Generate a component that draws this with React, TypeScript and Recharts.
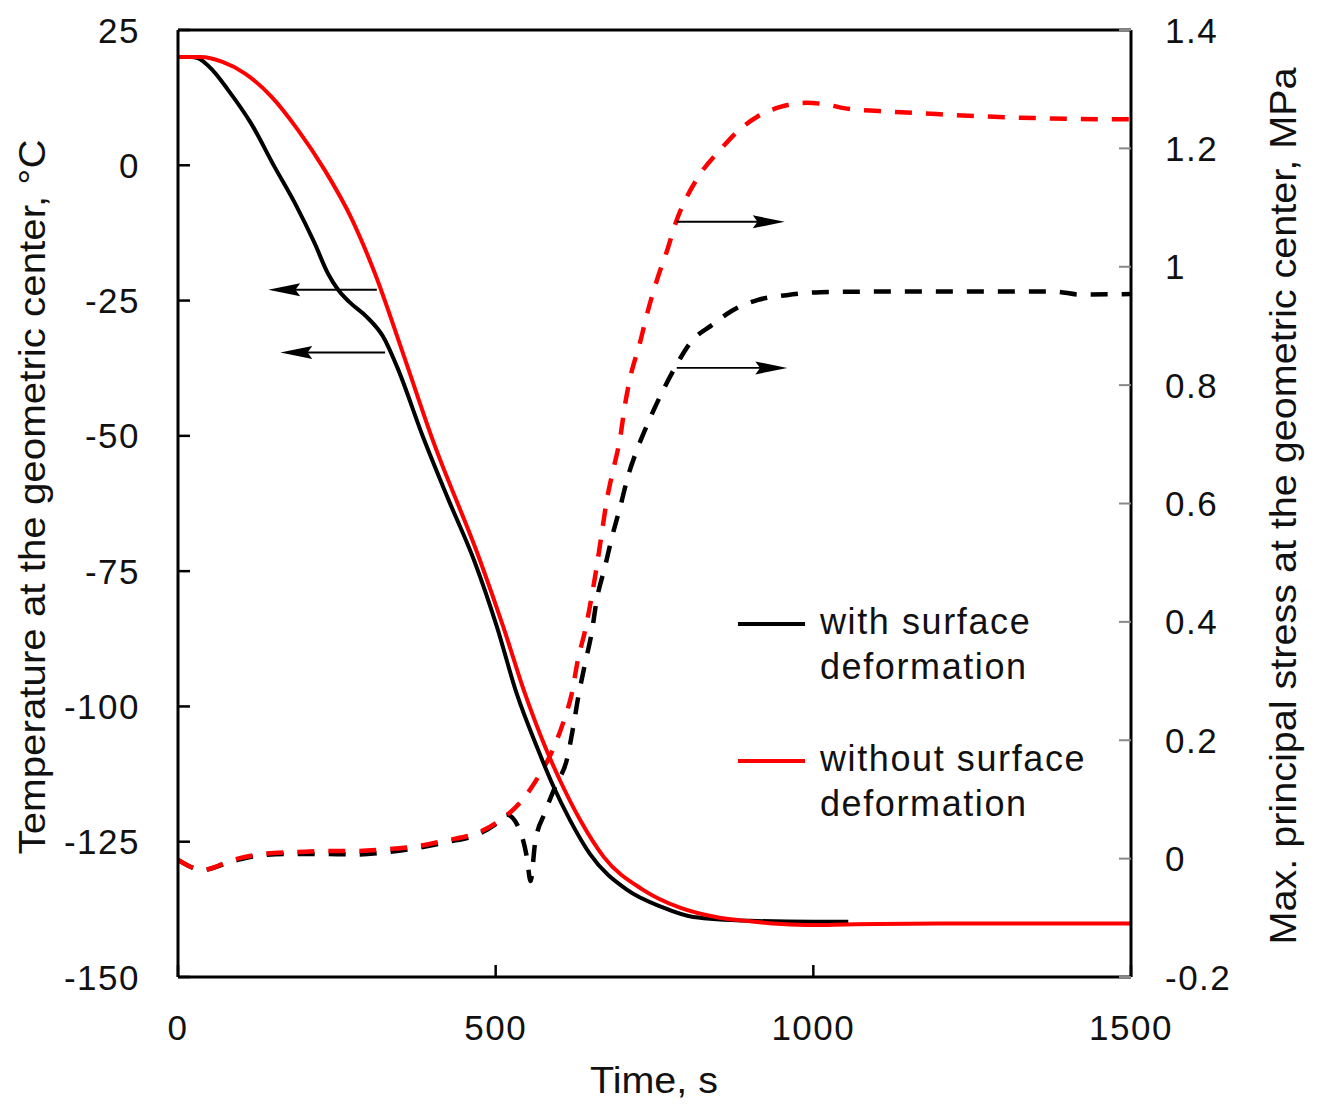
import React from 'react'
import { LineChart, Line, XAxis, YAxis, ReferenceLine, Legend } from 'recharts'

// temperature at the geometric center (°C) vs time (s)
const tempWithTime = [0, 20, 31, 55, 79, 115, 152, 184, 215, 236, 252, 270, 297, 323, 345, 386, 425, 467, 502, 533, 565, 591, 617, 648, 707, 760, 811, 900, 1000, 1055]
const tempWith = [20, 20, 19.8, 17.5, 13.9, 7.75, -0.3, -7, -14.4, -20, -23, -25.3, -28, -31.7, -37.3, -50.3, -61.6, -73.3, -85.3, -97.6, -107.5, -114.8, -121, -127.2, -133.9, -137, -138.9, -139.6, -139.8, -139.8]

const tempWithoutTime = [0, 36, 70, 105, 147, 189, 231, 273, 310, 354, 401, 475, 512, 546, 578, 601, 633, 670, 732, 790, 850, 900, 950, 1000, 1050, 1100, 1200, 1300, 1400, 1500]
const tempWithout = [20, 20, 19.1, 17, 12.7, 6.5, -0.9, -9.8, -20, -34.7, -50.8, -72.9, -85.3, -97.6, -107.5, -113.6, -121, -127.8, -133.9, -137.2, -139, -139.7, -140.2, -140.4, -140.3, -140.2, -140.1, -140.1, -140.1, -140.1]

// max. principal stress (MPa) vs time (s)
const stressWithTime = [0, 39, 87, 134, 187, 234, 282, 329, 376, 423, 470, 500, 518, 538, 549, 555, 562, 578, 595, 612, 622, 630, 641, 651, 659, 672, 683, 696, 708, 724, 743, 762, 782, 806, 841, 874, 913, 958, 1011, 1100, 1200, 1300, 1380, 1420, 1500]
const stressWith = [-0.002, -0.019, -0.004, 0.006, 0.008, 0.008, 0.007, 0.011, 0.018, 0.028, 0.04, 0.058, 0.074, 0.048, 0.003, -0.038, 0.026, 0.079, 0.125, 0.167, 0.222, 0.273, 0.331, 0.381, 0.437, 0.493, 0.543, 0.594, 0.645, 0.695, 0.744, 0.788, 0.829, 0.871, 0.902, 0.927, 0.944, 0.952, 0.957, 0.958, 0.958, 0.958, 0.958, 0.953, 0.954]

const stressWithoutTime = [0, 39, 87, 134, 187, 234, 282, 329, 376, 423, 470, 507, 538, 567, 590, 606, 620, 630, 641, 651, 659, 667, 675, 685, 696, 703, 711, 727, 740, 754, 770, 785, 801, 826, 853, 880, 911, 948, 990, 1026, 1048, 1103, 1158, 1267, 1400, 1500]
const stressWithout = [-0.002, -0.019, -0.002, 0.008, 0.011, 0.013, 0.013, 0.016, 0.021, 0.031, 0.043, 0.065, 0.094, 0.138, 0.184, 0.229, 0.28, 0.339, 0.386, 0.442, 0.493, 0.55, 0.606, 0.657, 0.711, 0.763, 0.809, 0.871, 0.927, 0.978, 1.028, 1.079, 1.118, 1.163, 1.197, 1.228, 1.253, 1.27, 1.277, 1.273, 1.268, 1.263, 1.26, 1.254, 1.25, 1.249]

const timeTicks = [0, 500, 1000, 1500]
const tempTicks = [-150, -125, -100, -75, -50, -25, 0, 25]
const stressTicks = [-0.2, 0, 0.2, 0.4, 0.6, 0.8, 1, 1.2, 1.4]

// annotation arrows: [time from, time to, level]
const tempArrows = [
  [313, 142, -23],
  [326, 161, -34.6],
]
const stressArrows = [
  [785, 955, 1.076],
  [785, 959, 0.829],
]

const zip = (ts: number[], vs: number[]) => ts.map((t, i) => ({ t, v: vs[i] }))

const FONT = '"Liberation Sans", Arial, Helvetica, sans-serif'
const TICK_FONT = 35

const Arrow = (props: any) => {
  const { x1, y1, x2, y2 } = props
  const dir = Math.sign(x2 - x1) || 1
  const head = 32
  return (
    <g>
      <line x1={x1} y1={y1} x2={x2 - dir * head * 0.6} y2={y2} stroke="#000" strokeWidth={1.8} />
      <polygon
        points={`${x2},${y2} ${x2 - dir * head},${y2 - 6.5} ${x2 - dir * head * 0.85},${y2} ${x2 - dir * head},${y2 + 6.5}`}
        fill="#000"
      />
    </g>
  )
}

const LeftTick = (props: any) => {
  const { x, y, payload } = props
  const ax = x + 38
  return (
    <g>
      <line x1={ax} x2={ax + 12} y1={y} y2={y} stroke="#000" strokeWidth={2.5} />
      <text x={x} y={y} dy="0.36em" textAnchor="end" fontSize={TICK_FONT} letterSpacing={1.5} fill="#111" fontFamily={FONT}>
        {String(payload.value)}
      </text>
    </g>
  )
}

const RightTick = (props: any) => {
  const { x, y, payload } = props
  const ax = x - 34
  return (
    <g>
      <line x1={ax} x2={ax - 12} y1={y} y2={y} stroke="#888" strokeWidth={2} />
      <text x={x} y={y} dy="0.36em" textAnchor="start" fontSize={TICK_FONT} letterSpacing={1.5} fill="#111" fontFamily={FONT}>
        {String(payload.value)}
      </text>
    </g>
  )
}

const BottomTick = (props: any) => {
  const { x, y, payload } = props
  const ay = y - 10
  return (
    <g>
      <line x1={x} x2={x} y1={ay} y2={ay - 12} stroke="#000" strokeWidth={2.5} />
      <text x={x} y={ay + 50} dy="0.36em" textAnchor="middle" fontSize={TICK_FONT} letterSpacing={1.5} fill="#111" fontFamily={FONT}>
        {String(payload.value)}
      </text>
    </g>
  )
}

const LegendBox = (props: any) => {
  const items = (props.payload || []).filter((p: any) => p.type !== 'none')
  return (
    <div style={{ fontFamily: FONT, fontSize: 36, letterSpacing: 1.6, lineHeight: '45px', color: '#111' }}>
      {items.map((it: any, i: number) => {
        const name = String(it.value)
        const cut = name.lastIndexOf(' ')
        return (
          <div key={i} style={{ position: 'relative', paddingLeft: 82, marginBottom: i === 0 ? 47 : 0 }}>
            <div style={{ position: 'absolute', left: 0, top: 23, width: 67, height: 4, background: it.color }} />
            <div>{name.slice(0, cut)}</div>
            <div>{name.slice(cut + 1)}</div>
          </div>
        )
      })}
    </div>
  )
}

export default function App() {
  return (
    <div style={{ width: 1313, height: 1099, background: '#fff' }}>
      <LineChart width={1313} height={1099} margin={{ top: 22, right: 0, bottom: 0, left: 0 }} style={{ fontFamily: FONT }}>
        <XAxis
          dataKey="t"
          type="number"
          domain={[0, 1500]}
          ticks={timeTicks}
          allowDataOverflow
          height={130}
          tickSize={0}
          tickMargin={10}
          tickLine={false}
          axisLine={{ stroke: '#000', strokeWidth: 3 }}
          tick={BottomTick}
          label={{
            content: () => (
              <text x={646} y={1085} textAnchor="middle" fontSize={36} fill="#111" fontFamily={FONT} textLength={128} lengthAdjust="spacingAndGlyphs">
                Time, s
              </text>
            ),
          }}
        />
        <YAxis
          yAxisId="left"
          orientation="left"
          type="number"
          domain={[-150, 25]}
          ticks={tempTicks}
          allowDataOverflow
          width={170}
          tickSize={0}
          tickMargin={38}
          tickLine={false}
          axisLine={{ stroke: '#000', strokeWidth: 3 }}
          tick={LeftTick}
          label={{
            content: () => (
              <text
                x={24}
                y={489}
                transform="rotate(-90 24 489)"
                textAnchor="middle"
                dominantBaseline="central"
                fontSize={36}
                fill="#111"
                fontFamily={FONT}
                textLength={715}
                lengthAdjust="spacingAndGlyphs"
              >
                Temperature at the geometric center, °C
              </text>
            ),
          }}
        />
        <YAxis
          yAxisId="right"
          orientation="right"
          type="number"
          domain={[-0.2, 1.4]}
          ticks={stressTicks}
          allowDataOverflow
          width={190}
          tickSize={0}
          tickMargin={34}
          tickLine={false}
          axisLine={{ stroke: '#000', strokeWidth: 3 }}
          tick={RightTick}
          label={{
            content: () => (
              <text
                x={1275}
                y={498}
                transform="rotate(-90 1275 498)"
                textAnchor="middle"
                dominantBaseline="central"
                fontSize={36}
                fill="#111"
                fontFamily={FONT}
                textLength={877}
                lengthAdjust="spacingAndGlyphs"
              >
                Max. principal stress at the geometric center, MPa
              </text>
            ),
          }}
        />
        <ReferenceLine yAxisId="left" y={25} stroke="#000" strokeWidth={3} />

        <Line
          yAxisId="right"
          data={zip(stressWithTime, stressWith)}
          dataKey="v"
          type="monotone"
          stroke="#000"
          strokeWidth={4.5}
          strokeDasharray="17 14"
          dot={false}
          legendType="none"
          isAnimationActive={false}
        />
        <Line
          yAxisId="right"
          data={zip(stressWithoutTime, stressWithout)}
          dataKey="v"
          type="monotone"
          stroke="#ff0000"
          strokeWidth={4.5}
          strokeDasharray="17 14"
          dot={false}
          legendType="none"
          isAnimationActive={false}
        />
        <Line
          yAxisId="left"
          name="with surface deformation"
          data={zip(tempWithTime, tempWith)}
          dataKey="v"
          type="monotone"
          stroke="#000"
          strokeWidth={4}
          dot={false}
          isAnimationActive={false}
        />
        <Line
          yAxisId="left"
          name="without surface deformation"
          data={zip(tempWithoutTime, tempWithout)}
          dataKey="v"
          type="monotone"
          stroke="#ff0000"
          strokeWidth={4}
          dot={false}
          isAnimationActive={false}
        />

        {tempArrows.map(([a, b, v], i) => (
          <ReferenceLine key={'ta' + i} yAxisId="left" segment={[{ x: a, y: v }, { x: b, y: v }]} shape={Arrow} />
        ))}
        {stressArrows.map(([a, b, v], i) => (
          <ReferenceLine key={'sa' + i} yAxisId="right" segment={[{ x: a, y: v }, { x: b, y: v }]} shape={Arrow} />
        ))}

        <Legend
          layout="vertical"
          align="center"
          verticalAlign="middle"
          content={LegendBox}
          wrapperStyle={{ position: 'absolute', left: 730, top: 591, width: 420, height: 'auto' }}
        />
      </LineChart>
    </div>
  )
}
